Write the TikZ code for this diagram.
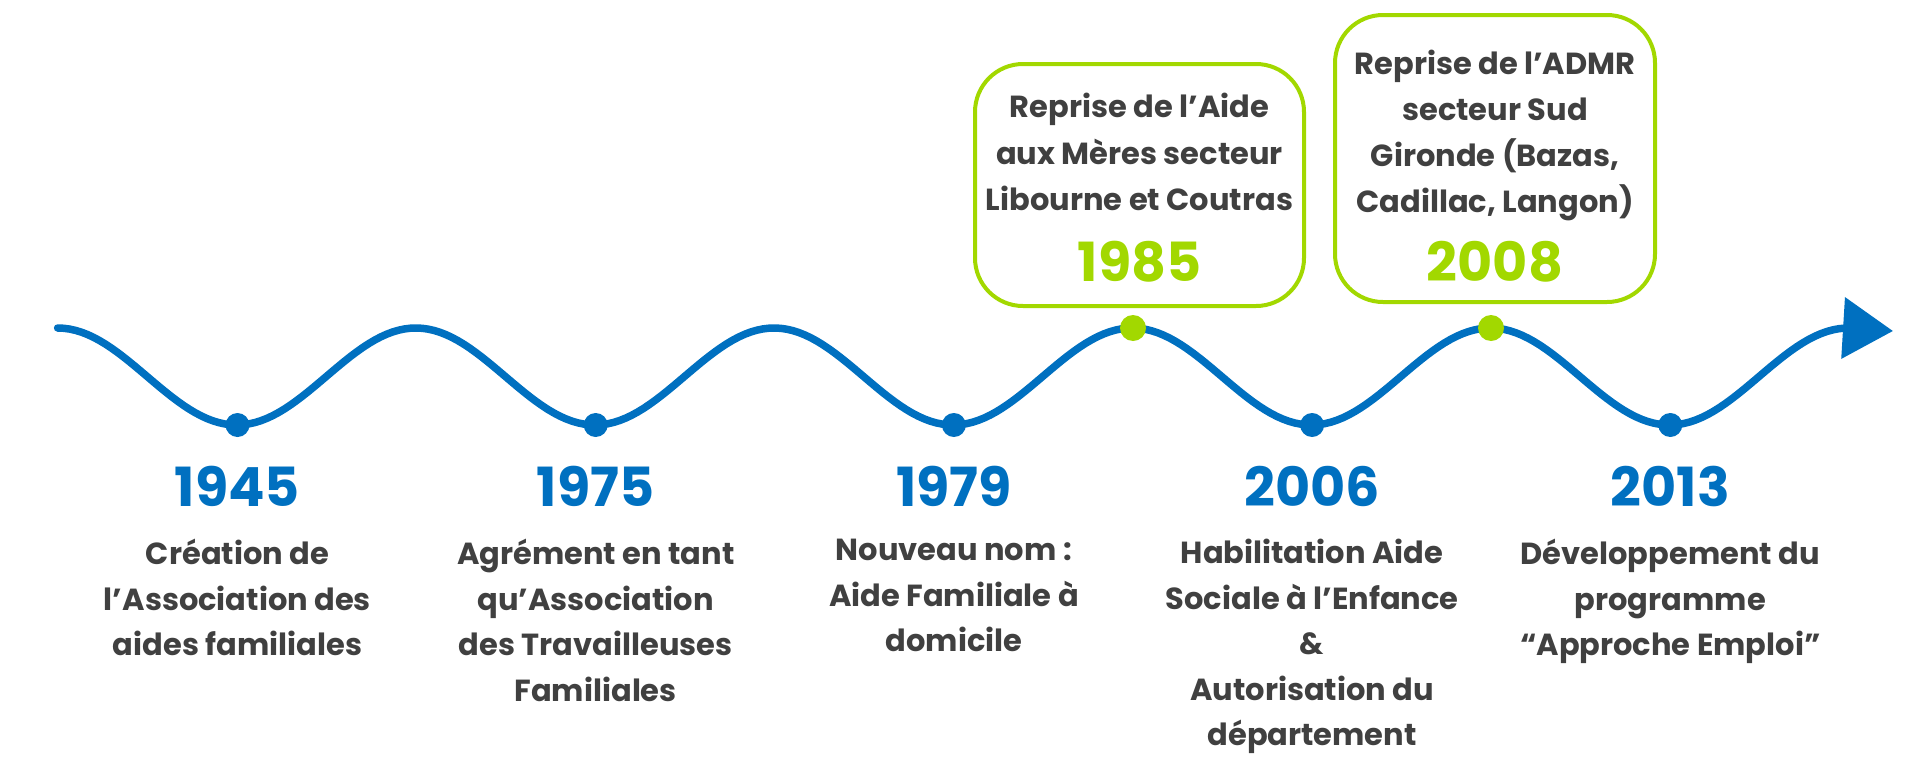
\documentclass[tikz,border=0pt]{standalone}
\usepackage{fontspec}
\setmainfont{Poppins}
\usetikzlibrary{arrows.meta}
\definecolor{wblue}{HTML}{0070C0}
\definecolor{wgreen}{HTML}{A2D800}
\definecolor{wgray}{HTML}{404040}
\begin{document}
\begin{tikzpicture}[x=1pt,y=-1pt,
  year/.style={font=\fontsize{54}{54}\selectfont\bfseries,inner sep=0pt},
  desc/.style={font=\fontsize{30.5}{45.5}\selectfont\bfseries,text=wgray,align=center,inner sep=0pt,anchor=north},
  infobox/.style={draw=wgreen,line width=4pt,rounded corners=48pt,inner sep=0pt}]
 \useasboundingbox (0,0) rectangle (1920,763);
 % wave
 \draw[wblue,line width=7.5pt,line cap=round,-{Triangle[length=50pt,width=60pt]}]
      plot[domain=57.6:1845,samples=300] ({\x},{376.5-48.5*cos(1.005025*(\x-57.6))})
      -- (1893,331);
 \coordinate (t1) at (237.5,425);
 \coordinate (t2) at (595.7,425);
 \coordinate (t3) at (953.9,425);
 \coordinate (t4) at (1312.1,425);
 \coordinate (t5) at (1670.3,425);
 \coordinate (p1) at (1133,328);
 \coordinate (p2) at (1491,328);
 \foreach \t in {t1,t2,t3,t4,t5} \fill[wblue] (\t) circle (12pt);
 \foreach \p in {p1,p2} \fill[wgreen] (\p) circle (13pt);
 % bottom events
 \node[year,text=wblue] (y1945) at (237.5,486) {1945};
 \node[year,text=wblue] (y1975) at (595.7,486) {1975};
 \node[year,text=wblue] (y1979) at (953.9,486) {1979};
 \node[year,text=wblue] (y2006) at (1312.1,486) {2006};
 \node[year,text=wblue] (y2013) at (1670.3,486) {2013};
 \node[desc] (d1945) at (237.5,539) {Création de\\l’Association des\\aides familiales};
 \node[desc] (d1975) at (595.7,539) {Agrément en tant\\qu’Association\\des Travailleuses\\Familiales};
 \node[desc] (d1979) at (953.9,539) {Nouveau nom :\\Aide Familiale à\\domicile};
 \node[desc] (d2006) at (1312.1,539) {Habilitation Aide\\Sociale à l’Enfance\\\&\\Autorisation du\\département};
 \node[desc] (d2013) at (1670.3,539) {Développement du\\programme\\“Approche Emploi”};
 % top boxes
 \node[infobox,minimum width=329pt,minimum height=242pt] (b1985) at (1139.5,185) {};
 \node[infobox,minimum width=320pt,minimum height=287pt] (b2008) at (1495,158.5) {};
 \node[desc,font=\fontsize{30.5}{46.5}\selectfont\bfseries] (d1985) at (1139.5,93) {Reprise de l’Aide\\aux Mères secteur\\Libourne et Coutras};
 \node[desc,font=\fontsize{30.5}{46}\selectfont\bfseries] (d2008) at (1495,50) {Reprise de l’ADMR\\secteur Sud\\Gironde (Bazas,\\Cadillac, Langon)};
 \node[year,text=wgreen] (y1985) at (1139.5,262) {1985};
 \node[year,text=wgreen] (y2008) at (1495,262) {2008};
\end{tikzpicture}
\end{document}
